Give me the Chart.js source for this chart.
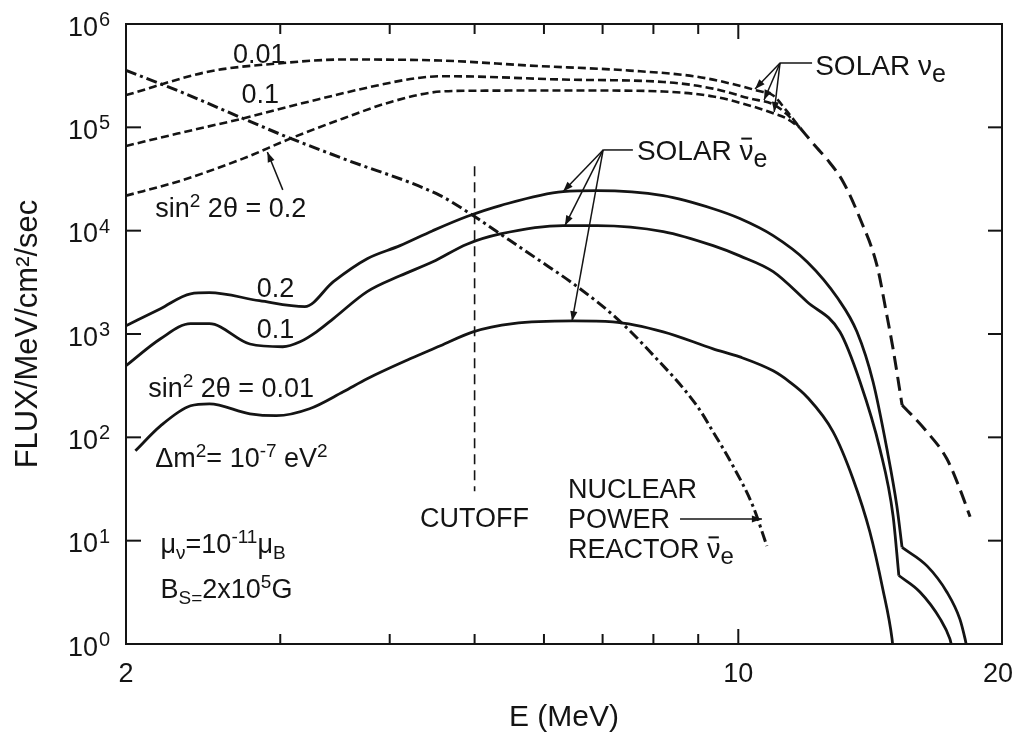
<!DOCTYPE html>
<html>
<head>
<meta charset="utf-8">
<script src="https://cdn.jsdelivr.net/npm/chart.js@4/dist/chart.umd.min.js"></script>
<style>
  html, body { margin: 0; padding: 0; background: #fff; }
  canvas { display: block; }
</style>
</head>
<body>
<canvas id="c" width="1026" height="738"></canvas>
<script>
// ---------------- DATA (E in MeV, flux in /MeV/cm^2/sec) ----------------
// Solar nu_e (dashed), three mixing angles, merging into one common tail
const solarNu001_E = [2.0, 2.49, 2.97, 3.54, 4.57, 5.78, 7.52, 8.97, 10.12, 10.5, 10.96, 11.35, 11.76];
const solarNu001_F = [2.05e5, 3.47e5, 4.14e5, 4.53e5, 4.43e5, 3.96e5, 3.54e5, 3.09e5, 2.48e5, 2.27e5, 2.03e5, 1.45e5, 9.9e4];

const solarNu01_E = [2.0, 2.29, 2.72, 3.24, 3.87, 4.3, 4.57, 5.0, 6.31, 8.21, 9.36, 10.31, 10.96, 11.35, 11.76];
const solarNu01_F = [6.6e4, 8.7e4, 1.22e5, 1.78e5, 2.54e5, 3.0e5, 3.12e5, 3.1e5, 2.9e5, 2.75e5, 2.37e5, 1.90e5, 1.67e5, 1.35e5, 9.9e4];

const solarNu02_E = [2.0, 2.29, 2.72, 3.08, 3.54, 4.03, 4.57, 5.0, 5.78, 6.90, 8.21, 9.36, 10.39, 10.96, 11.35, 11.76];
const solarNu02_F = [2.18e4, 2.98e4, 4.98e4, 7.78e4, 1.22e5, 1.78e5, 2.22e5, 2.26e5, 2.27e5, 2.27e5, 2.22e5, 1.99e5, 1.59e5, 1.37e5, 1.22e5, 9.9e4];

const solarNuTail_E = [11.76, 12.30, 12.63, 13.17, 13.77, 14.4, 14.78, 15.02, 15.38];
const solarNuTail_F = [9.9e4, 6.3e4, 4.9e4, 2.98e4, 1.31e4, 4.58e3, 1.50e3, 719, 206];
const solarNuEnd_E = [15.38, 16.42, 17.3, 17.9, 18.39];
const solarNuEnd_F = [206, 113, 62, 31.7, 17];

// Nuclear power reactor anti-nu_e (dash-dot)
const reactor_E = [2.0, 2.29, 2.72, 3.05, 3.54, 4.57, 4.98, 5.30, 5.89, 6.55, 7.27, 7.93, 8.97, 9.36, 9.86, 10.39, 10.78];
const reactor_F = [3.55e5, 2.27e5, 1.22e5, 8.1e4, 4.98e4, 2.18e4, 1.40e4, 9.8e3, 5.35e3, 2.87e3, 1.41e3, 673, 202, 113, 53, 21.7, 8.9];

// Solar anti-nu_e (solid); each curve has a kink near 15 MeV
const solarAnti02_E = [2.0, 2.19, 2.37, 2.49, 2.84, 3.20, 3.45, 3.77, 4.11, 4.48, 4.90, 5.35, 6.31, 6.90, 8.21, 9.36, 10.04, 10.96, 11.98, 13.0, 13.66, 14.25, 14.78, 15.17, 15.38];
const solarAnti02_F = [1.20e3, 1.76e3, 2.45e3, 2.51e3, 2.10e3, 1.84e3, 3.21e3, 5.35e3, 7.16e3, 1.0e4, 1.37e4, 1.75e4, 2.39e4, 2.44e4, 2.18e4, 1.63e4, 1.31e4, 8.95e3, 5.01e3, 2.19e3, 1.05e3, 345, 77, 21.7, 8.6];
const solarAnti02End_E = [15.38, 16.42, 17.3, 17.9, 18.15, 18.2];
const solarAnti02End_F = [8.6, 5.7, 3.19, 1.75, 1.12, 1.0];

const solarAnti01_E = [2.0, 2.19, 2.37, 2.49, 2.77, 3.02, 3.16, 3.30, 3.45, 3.77, 4.11, 4.48, 4.90, 5.35, 6.31, 6.90, 8.21, 9.36, 10.04, 10.96, 11.98, 13.06, 13.77, 14.51, 15.02, 15.25];
const solarAnti01_F = [493, 900, 1.26e3, 1.26e3, 800, 753, 841, 1.05e3, 1.41e3, 2.57e3, 3.66e3, 5.0e3, 7.4e3, 9.3e3, 1.12e4, 1.12e4, 9.8e3, 7.16e3, 5.7e3, 4.01e3, 2.05e3, 1.05e3, 345, 77, 17.4, 4.6];
const solarAnti01End_E = [15.25, 16.12, 17.0, 17.44, 17.5];
const solarAnti01End_F = [4.6, 3.19, 1.75, 1.12, 1.0];

const solarAnti001_E = [2.05, 2.19, 2.37, 2.49, 2.77, 2.97, 3.24, 3.54, 3.77, 4.22, 4.57, 4.98, 5.53, 6.47, 7.19, 8.21, 9.36, 10.04, 10.96, 11.45, 11.98, 12.83, 13.52, 14.13, 14.62, 14.98, 15.0];
const solarAnti001_F = [74, 129, 202, 211, 169, 162, 189, 276, 369, 575, 770, 1.05e3, 1.26e3, 1.34e3, 1.31e3, 1.05e3, 719, 600, 440, 343, 246, 113, 39.6, 12.2, 3.41, 1.12, 1.0];

// Cutoff marker at E = 5 MeV
const cutoff_E = [5, 5];
const cutoff_F = [4.2e4, 30];

// Axis ticks and labels
const xMinorTicks = [3, 4, 5, 6, 7, 8, 9, 10];
const xLabelValues = [2, 10, 20];
const xLabelTexts = ['2', '10', '20'];
const yTickValues = [1, 10, 100, 1e3, 1e4, 1e5, 1e6];
const yTickExponents = ['0', '1', '2', '3', '4', '5', '6'];

// ---------------- STYLE / LAYOUT ----------------
const INK = '#141414';
const FONT = "'Liberation Sans', Arial, Helvetica, sans-serif";

const pts = (E, F) => E.map((e, i) => ({ x: e, y: F[i] }));

// Annotation texts, anchored in data coordinates
const annotations = [
  { E: 2.65, F: 4.2e5, segs: [{ t: '0.01' }] },
  { E: 2.71, F: 1.72e5, segs: [{ t: '0.1' }] },
  { E: 2.16, F: 1.36e4, segs: [{ t: 'sin' }, { t: '2', sup: 1 }, { t: ' 2θ = 0.2' }] },
  { E: 2.82, F: 2.28e3, segs: [{ t: '0.2' }] },
  { E: 2.82, F: 915, segs: [{ t: '0.1' }] },
  { E: 2.12, F: 245, segs: [{ t: 'sin' }, { t: '2', sup: 1 }, { t: ' 2θ = 0.01' }] },
  { E: 2.16, F: 51.6, segs: [{ t: 'Δm' }, { t: '2', sup: 1 }, { t: '= 10' }, { t: '-7', sup: 1 }, { t: ' eV' }, { t: '2', sup: 1 }] },
  { E: 2.19, F: 7.6, segs: [{ t: 'μ' }, { t: 'ν', sub: 1 }, { t: '=10' }, { t: '-11', sup: 1 }, { t: 'μ' }, { t: 'B', sub: 1 }] },
  { E: 2.19, F: 2.79, segs: [{ t: 'B' }, { t: 'S=', sub: 1 }, { t: '2x10' }, { t: '5', sup: 1 }, { t: 'G' }] },
  { E: 5, F: 13.6, align: 'center', segs: [{ t: 'CUTOFF' }] },
  { E: 6.39, F: 25.9, segs: [{ t: 'NUCLEAR' }] },
  { E: 6.39, F: 13.3, segs: [{ t: 'POWER' }] },
  { E: 6.39, F: 6.8, segs: [{ t: 'REACTOR ' }, { t: 'ν', over: 1 }, { t: 'e', sub: 1, big: 1 }] },
  { E: 12.24, F: 3.21e5, size: 28, segs: [{ t: 'SOLAR ' }, { t: 'ν' }, { t: 'e', sub: 1, big: 1 }] },
  { E: 7.66, F: 4.83e4, size: 28, segs: [{ t: 'SOLAR ' }, { t: 'ν', over: 1 }, { t: 'e', sub: 1, big: 1 }] }
];

const arrows = [
  { from: [3.02, 2.48e4], to: [2.90, 5.77e4] },
  { from: [11.16, 4.2e5], to: [10.45, 2.35e5] },
  { from: [11.16, 4.2e5], to: [10.70, 1.84e5] },
  { from: [11.16, 4.2e5], to: [10.99, 1.41e5] },
  { from: [7.01, 6.04e4], to: [6.31, 2.39e4] },
  { from: [7.01, 6.04e4], to: [6.34, 1.12e4] },
  { from: [7.01, 6.04e4], to: [6.46, 1.33e3] },
  { from: [8.58, 16.2], to: [10.64, 16.2] }
];
const leaders = [
  { from: [11.16, 4.2e5], to: [12.14, 4.2e5] },
  { from: [7.01, 6.04e4], to: [7.58, 6.04e4] }
];

function segFont(s, base) {
  let size = base;
  if (s.sup || s.sub) size = Math.round(base * (s.big ? 0.9 : 0.72));
  return size + 'px ' + FONT;
}
function richWidth(ctx, segs, base) {
  let w = 0;
  segs.forEach(s => { ctx.font = segFont(s, base); w += ctx.measureText(s.t).width; });
  return w;
}
function drawRich(ctx, segs, x, y, base, align) {
  let cx = x;
  const w = richWidth(ctx, segs, base);
  if (align === 'center') cx -= w / 2;
  else if (align === 'right') cx -= w;
  ctx.textAlign = 'left';
  ctx.textBaseline = 'alphabetic';
  segs.forEach(s => {
    ctx.font = segFont(s, base);
    const dy = s.sup ? -base * 0.38 : (s.sub ? base * 0.24 : 0);
    ctx.fillText(s.t, cx, y + dy);
    const sw = ctx.measureText(s.t).width;
    if (s.over) ctx.fillRect(cx + sw * 0.12, y - base * 0.8, sw * 0.76, 2);
    cx += sw;
  });
}
function line(ctx, x1, y1, x2, y2) {
  ctx.beginPath(); ctx.moveTo(x1, y1); ctx.lineTo(x2, y2); ctx.stroke();
}
function arrow(ctx, x1, y1, x2, y2) {
  line(ctx, x1, y1, x2, y2);
  const ang = Math.atan2(y2 - y1, x2 - x1);
  const L = 10, H = 3.6;
  ctx.beginPath();
  ctx.moveTo(x2, y2);
  ctx.lineTo(x2 - L * Math.cos(ang) + H * Math.sin(ang), y2 - L * Math.sin(ang) - H * Math.cos(ang));
  ctx.lineTo(x2 - L * Math.cos(ang) - H * Math.sin(ang), y2 - L * Math.sin(ang) + H * Math.cos(ang));
  ctx.closePath();
  ctx.fill();
}

const decorPlugin = {
  id: 'decor',
  beforeDraw(chart) {
    const { ctx, width, height } = chart;
    ctx.save(); ctx.fillStyle = '#fff'; ctx.fillRect(0, 0, width, height); ctx.restore();
  },
  afterDraw(chart) {
    const { ctx, chartArea: a, scales } = chart;
    const X = v => scales.x.getPixelForValue(v);
    const Y = v => scales.y.getPixelForValue(v);
    ctx.save();
    ctx.strokeStyle = INK; ctx.fillStyle = INK;
    // frame
    ctx.lineWidth = 2;
    ctx.strokeRect(a.left, a.top, a.right - a.left, a.bottom - a.top);
    // inward ticks
    xMinorTicks.forEach(v => {
      const len = v === 10 ? 15 : 10;
      const px = X(v);
      line(ctx, px, a.bottom, px, a.bottom - len);
      line(ctx, px, a.top, px, a.top + len);
    });
    yTickValues.forEach(v => {
      const py = Y(v);
      line(ctx, a.left, py, a.left + 15, py);
      line(ctx, a.right, py, a.right - 14, py);
    });
    // y tick labels 10^n
    yTickValues.forEach((v, i) => {
      const py = Y(v);
      ctx.textBaseline = 'alphabetic';
      ctx.font = '27px ' + FONT;
      ctx.textAlign = 'right';
      ctx.fillText('10', a.left - 28, py + 11.5);
      ctx.font = '20px ' + FONT;
      ctx.textAlign = 'left';
      ctx.fillText(yTickExponents[i], a.left - 27, py + 2);
    });
    // x tick labels
    ctx.font = '27px ' + FONT;
    ctx.textAlign = 'center';
    xLabelValues.forEach((v, i) => {
      ctx.fillText(xLabelTexts[i], X(v) - (v === 20 ? 4 : 0), a.bottom + 38);
    });
    // leaders & arrows
    ctx.lineWidth = 1.5;
    leaders.forEach(l => line(ctx, X(l.from[0]), Y(l.from[1]), X(l.to[0]), Y(l.to[1])));
    arrows.forEach(r => arrow(ctx, X(r.from[0]), Y(r.from[1]), X(r.to[0]), Y(r.to[1])));
    // annotation texts
    annotations.forEach(n => drawRich(ctx, n.segs, X(n.E), Y(n.F), n.size || 27, n.align || 'left'));
    ctx.restore();
  }
};

const solid = { borderWidth: 2.8, borderDash: [] };
const nuDash = { borderWidth: 2.6, borderDash: [8, 4] };
const tailDash = { borderWidth: 3, borderDash: [14, 7] };
const ds = (label, E, F, extra) => Object.assign({
  label, data: pts(E, F), borderColor: INK, backgroundColor: INK,
  pointRadius: 0, fill: false, cubicInterpolationMode: 'monotone'
}, extra);

new Chart(document.getElementById('c'), {
  type: 'line',
  data: {
    datasets: [
      ds('Solar νe, sin²2θ = 0.01', solarNu001_E, solarNu001_F, nuDash),
      ds('Solar νe, sin²2θ = 0.1', solarNu01_E, solarNu01_F, nuDash),
      ds('Solar νe, sin²2θ = 0.2', solarNu02_E, solarNu02_F, nuDash),
      ds('Solar νe (high-energy tail)', solarNuTail_E, solarNuTail_F, tailDash),
      ds('Solar νe (end of tail)', solarNuEnd_E, solarNuEnd_F, tailDash),
      ds('Nuclear power reactor ν̄e', reactor_E, reactor_F, { borderWidth: 3, borderDash: [11, 4, 3, 4] }),
      ds('Solar ν̄e, sin²2θ = 0.2', solarAnti02_E, solarAnti02_F, solid),
      ds('Solar ν̄e, sin²2θ = 0.2 (end)', solarAnti02End_E, solarAnti02End_F, solid),
      ds('Solar ν̄e, sin²2θ = 0.1', solarAnti01_E, solarAnti01_F, solid),
      ds('Solar ν̄e, sin²2θ = 0.1 (end)', solarAnti01End_E, solarAnti01End_F, solid),
      ds('Solar ν̄e, sin²2θ = 0.01', solarAnti001_E, solarAnti001_F, solid),
      ds('Cutoff', cutoff_E, cutoff_F, { borderWidth: 1.6, borderDash: [10, 6], cubicInterpolationMode: 'default', tension: 0 })
    ]
  },
  options: {
    responsive: false,
    animation: false,
    devicePixelRatio: 1,
    layout: { padding: { top: 24, right: 24, left: 0, bottom: 0 } },
    plugins: { legend: { display: false }, tooltip: { enabled: false } },
    scales: {
      x: {
        type: 'logarithmic', min: 2, max: 20,
        ticks: { display: false },
        grid: { display: false, drawTicks: false },
        border: { display: false },
        title: { display: true, text: 'E (MeV)', color: INK, font: { family: FONT, size: 30 }, padding: { top: 0, bottom: 2 } },
        afterFit: s => { s.height = 94; }
      },
      y: {
        type: 'logarithmic', min: 1, max: 1e6,
        ticks: { display: false },
        grid: { display: false, drawTicks: false },
        border: { display: false },
        title: { display: true, text: 'FLUX/MeV/cm²/sec', color: INK, font: { family: FONT, size: 31 }, padding: { top: 10, bottom: 0 } },
        afterFit: s => { s.width = 126; }
      }
    }
  },
  plugins: [decorPlugin]
});
</script>
</body>
</html>
